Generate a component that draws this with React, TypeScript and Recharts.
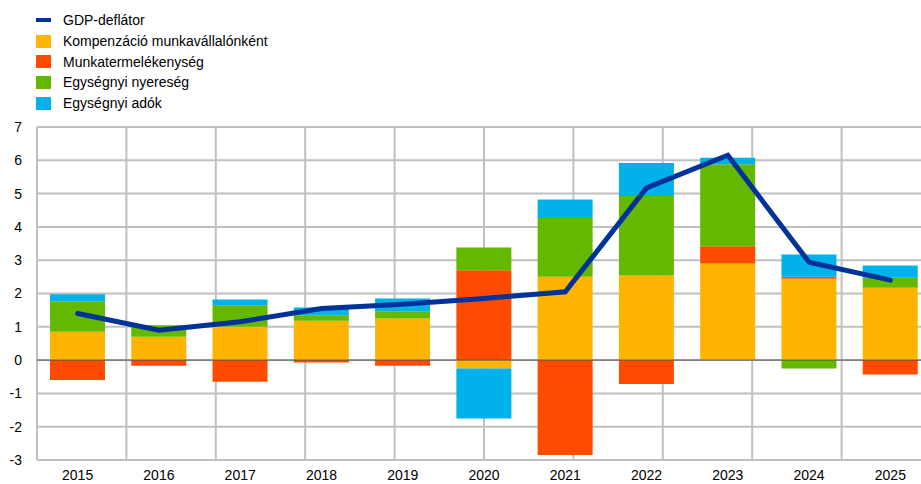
import {
  ComposedChart,
  Bar,
  Line,
  XAxis,
  YAxis,
  CartesianGrid,
  ReferenceLine,
} from "recharts";

const years = ["2015", "2016", "2017", "2018", "2019", "2020", "2021", "2022", "2023", "2024", "2025"];
const compensation = [0.85, 0.7, 1.0, 1.18, 1.25, -0.25, 2.5, 2.54, 2.9, 2.44, 2.17];
const productivity = [-0.6, -0.17, -0.65, -0.07, -0.17, 2.7, -2.85, -0.72, 0.52, 0.06, -0.43];
const profits = [0.92, 0.35, 0.65, 0.17, 0.22, 0.68, 1.77, 2.39, 2.46, -0.25, 0.3];
const taxes = [0.21, 0.0, 0.17, 0.23, 0.38, -1.5, 0.55, 0.99, 0.2, 0.67, 0.37];
const deflator = [1.4, 0.9, 1.15, 1.55, 1.68, 1.85, 2.05, 5.17, 6.15, 2.94, 2.4];
const yTicks = [-3, -2, -1, 0, 1, 2, 3, 4, 5, 6, 7];
const gridTicks = [0, 1, 2, 3, 4, 5, 6, 7, 8, 9, 10, 11];

const data = years.map((year, i) => ({
  year,
  compensation: compensation[i],
  productivity: productivity[i],
  profits: profits[i],
  taxes: taxes[i],
  deflator: deflator[i],
}));

const legendItems = [
  { name: "GDP-deflátor", color: "#003299", line: true },
  { name: "Kompenzáció munkavállalónként", color: "#FFB400" },
  { name: "Munkatermelékenység", color: "#FF4B00" },
  { name: "Egységnyi nyereség", color: "#65B800" },
  { name: "Egységnyi adók", color: "#00B1EA" },
];

const font = "'Liberation Sans', Arial, sans-serif";

export default function App() {
  return (
    <div style={{ position: "absolute", left: 0, top: 0, width: 921, height: 484, overflow: "hidden", background: "#fff", fontFamily: font }}>
      <div style={{ position: "absolute", left: 36, top: 10, zIndex: 2 }}>
        {legendItems.map((item) => (
          <div key={item.name} style={{ display: "flex", alignItems: "center", height: 20.7, fontSize: 14, color: "#000" }}>
            <span
              style={{
                display: "inline-block",
                width: 15,
                height: item.line ? 4 : 13,
                background: item.color,
                marginRight: 12,
              }}
            />
            {item.name}
          </div>
        ))}
      </div>
      <ComposedChart
        width={931}
        height={484}
        data={data}
        stackOffset="sign"
        barCategoryGap="16%"
        margin={{ top: 127, right: 0, bottom: 0, left: 0 }}
      >
        <XAxis xAxisId="grid" type="number" domain={[0, 11]} ticks={gridTicks} hide />
        <CartesianGrid xAxisId="grid" stroke="#c0c0c0" strokeWidth={2} />
        <XAxis
          dataKey="year"
          tickLine={false}
          axisLine={false}
          tickSize={0}
          tickMargin={10}
          height={24}
          tick={{ fill: "#000", fontSize: 14, fontFamily: font }}
        />
        <YAxis
          domain={[-3, 7]}
          ticks={yTicks}
          width={37}
          tickLine={false}
          axisLine={false}
          tickSize={0}
          tickMargin={15}
          tick={{ fill: "#000", fontSize: 14, fontFamily: font }}
        />
        <Bar dataKey="compensation" stackId="a" fill="#FFB400" isAnimationActive={false} />
        <Bar dataKey="productivity" stackId="a" fill="#FF4B00" isAnimationActive={false} />
        <Bar dataKey="profits" stackId="a" fill="#65B800" isAnimationActive={false} />
        <Bar dataKey="taxes" stackId="a" fill="#00B1EA" isAnimationActive={false} />
        <ReferenceLine y={0} stroke="#555" strokeWidth={1} />
        <Line
          dataKey="deflator"
          stroke="#003299"
          strokeWidth={5}
          dot={false}
          strokeLinecap="round"
          isAnimationActive={false}
        />
      </ComposedChart>
    </div>
  );
}
